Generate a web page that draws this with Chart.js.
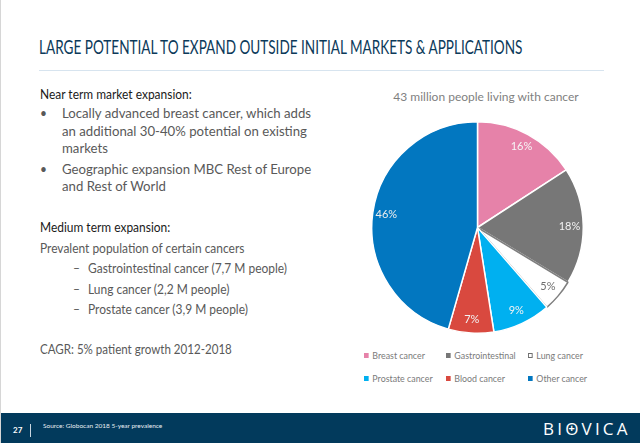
<!DOCTYPE html>
<html><head><meta charset="utf-8">
<script src="https://cdn.jsdelivr.net/npm/chart.js@4.4.1/dist/chart.umd.min.js"></script>
<style>
html,body{margin:0;padding:0;width:640px;height:443px;overflow:hidden;background:#fff;font-family:Lato,"Open Sans",sans-serif;}
#page{position:relative;width:640px;height:443px;border-left:1px solid #d6d6d6;box-sizing:border-box;}
.t{position:absolute;white-space:nowrap;line-height:18px;height:18px;transform:scaleX(0.92);transform-origin:0 50%;}
.t.w{transform:scaleX(1.0);font-size:13.2px;}
.t.n{transform:scaleX(0.89);}
.h{color:#1a1a1a;font-size:13px;}
.b{color:#595959;font-size:13px;}
#title{position:absolute;left:38px;top:34px;font-size:18.5px;color:#0c3a5a;white-space:nowrap;line-height:26px;transform:scaleX(0.733);transform-origin:0 50%;}
#rule{position:absolute;left:38px;top:70px;width:565px;height:1px;background:#d7e4ef;}
#ptitle{position:absolute;left:360px;width:250px;top:88px;text-align:center;font-size:12px;color:#7f7f7f;line-height:18px;}
#chartbox{position:absolute;left:370px;top:121px;width:213px;height:213px;}
.lg{position:absolute;white-space:nowrap;font-size:9.5px;color:#7a7a7a;line-height:14px;transform:scaleX(0.93);transform-origin:0 50%;}
.lg i{display:inline-block;width:5px;height:5px;margin-right:4px;vertical-align:1px;box-sizing:border-box;}
#footer{position:absolute;left:0;top:413px;width:640px;height:30px;background:#023a5c;}
#pg{position:absolute;left:12px;top:424px;font-size:8px;font-weight:bold;color:#fff;line-height:12px;}
#vbar{position:absolute;left:29px;top:424px;width:1px;height:13px;background:#c9d6e0;}
#src{position:absolute;left:42px;top:421px;font-size:6.5px;color:#e8eef3;line-height:10px;white-space:nowrap;}
#logo{position:absolute;left:542px;top:419px;font-size:17px;color:#fff;letter-spacing:3.2px;line-height:20px;font-family:"Open Sans",sans-serif;white-space:nowrap;}
#logo .o{position:relative;display:inline-block;}
#logo .o:after{content:"+";position:absolute;left:0;right:3.2px;top:-1px;text-align:center;font-size:11px;font-weight:bold;letter-spacing:0;}
</style></head><body>
<div id="page">
<div id="title">LARGE POTENTIAL TO EXPAND OUTSIDE INITIAL MARKETS &amp; APPLICATIONS</div>
<div id="rule"></div>

<div class="t h" style="left:39px;top:85px">Near term market expansion:</div>
<div class="t b" style="left:39px;top:104px">•</div>
<div class="t b w" style="left:61px;top:104px">Locally advanced breast cancer, which adds</div>
<div class="t b w" style="left:61px;top:122px">an additional 30-40% potential on existing</div>
<div class="t b w" style="left:61px;top:139px">markets</div>
<div class="t b" style="left:39px;top:160px">•</div>
<div class="t b w" style="left:61px;top:160px">Geographic expansion MBC Rest of Europe</div>
<div class="t b w" style="left:61px;top:177px">and Rest of World</div>

<div class="t h" style="left:39px;top:218px">Medium term expansion:</div>
<div class="t b" style="left:39px;top:239px">Prevalent population of certain cancers</div>
<div class="t b" style="left:72px;top:259px">–</div>
<div class="t b" style="left:87px;top:259px">Gastrointestinal cancer (7,7 M people)</div>
<div class="t b" style="left:72px;top:280px">–</div>
<div class="t b" style="left:87px;top:280px">Lung cancer (2,2 M people)</div>
<div class="t b" style="left:72px;top:300px">–</div>
<div class="t b" style="left:87px;top:300px">Prostate cancer (3,9 M people)</div>
<div class="t b n" style="left:39px;top:340px">CAGR: 5% patient growth 2012-2018</div>

<div id="ptitle">43 million people living with cancer</div>
<div id="chartbox"><canvas id="c"></canvas></div>
<div id="legend"></div>

<div id="footer"></div>
<div id="pg">27</div>
<div id="vbar"></div>
<div id="src">Source: Globocan 2018 5-year prevalence</div>
<div id="logo">BI<span class="o">O</span>VICA</div>
</div>
<script>
// ---- data ----
const categories = ['Breast cancer','Gastrointestinal','Lung cancer','Prostate cancer','Blood cancer','Other cancer'];
const shares = [16, 18, 5, 9, 7, 46];
const sliceColors = ['#E682A9','#777777','#FFFFFF','#00B0F0','#D9493F','#0277C0'];
const sliceBorders = ['#FFFFFF','#FFFFFF','#7F7F7F','#FFFFFF','#FFFFFF','#FFFFFF'];
const labelColors = ['#F6F6F6','#F2F2F2','#6E6E6E','#F2F2F2','#F2F2F2','#EDEDED'];

// legend (HTML, built from the arrays)
const legendCols = [363, 445, 527];
const legendRows = [349, 372];
const lg = document.getElementById('legend');
categories.forEach((name, i) => {
  const d = document.createElement('div');
  d.className = 'lg';
  d.style.left = legendCols[i % 3] + 'px';
  d.style.top = legendRows[Math.floor(i / 3)] + 'px';
  const box = document.createElement('i');
  box.style.background = sliceColors[i];
  if (sliceColors[i] === '#FFFFFF') box.style.border = '1px solid #6e6e6e';
  d.appendChild(box);
  d.appendChild(document.createTextNode(name));
  lg.appendChild(d);
});

const pctLabels = {
  id: 'pctLabels',
  afterDatasetsDraw(chart) {
    const ctx = chart.ctx;
    const meta = chart.getDatasetMeta(0);
    ctx.save();
    ctx.font = '11px Lato, "Open Sans", sans-serif';
    ctx.textAlign = 'center';
    ctx.textBaseline = 'middle';
    meta.data.forEach((arc, i) => {
      const p = arc.getProps(['x','y','startAngle','endAngle','outerRadius'], true);
      const mid = (p.startAngle + p.endAngle) / 2;
      const r = p.outerRadius * 0.87;
      ctx.fillStyle = labelColors[i];
      ctx.fillText(shares[i] + '%', p.x + Math.cos(mid) * r, p.y + Math.sin(mid) * r);
    });
    ctx.restore();
  }
};

new Chart(document.getElementById('c'), {
  type: 'pie',
  data: {
    labels: categories,
    datasets: [{
      data: shares,
      backgroundColor: sliceColors,
      borderColor: sliceBorders,
      borderWidth: 1.5
    }]
  },
  options: {
    responsive: true,
    maintainAspectRatio: false,
    animation: false,
    layout: { padding: 0 },
    plugins: { legend: { display: false }, tooltip: { enabled: false }, title: { display: false } }
  },
  plugins: [pctLabels]
});
</script>
</body></html>
